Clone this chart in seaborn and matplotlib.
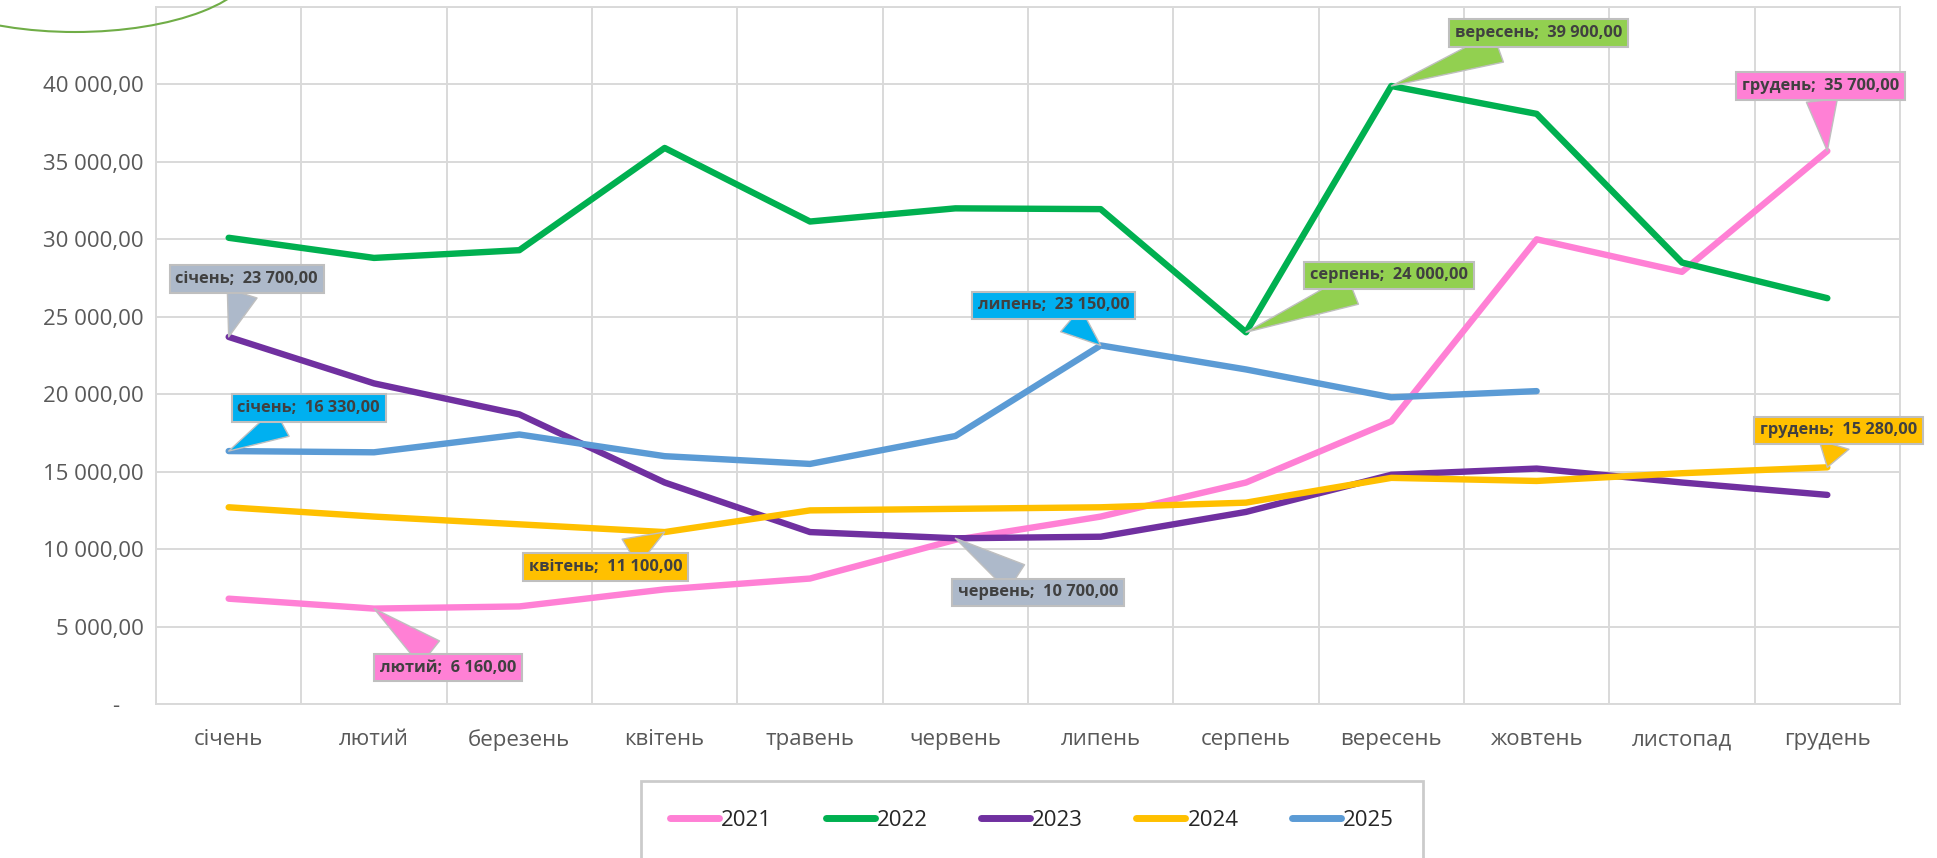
import matplotlib
matplotlib.use("Agg")
import matplotlib.pyplot as plt
import seaborn as sns
import pandas as pd
from matplotlib.patches import Ellipse
from matplotlib.ticker import FuncFormatter, MultipleLocator, FixedLocator

# --- data ---
months = ["січень", "лютий", "березень", "квітень", "травень", "червень",
          "липень", "серпень", "вересень", "жовтень", "листопад", "грудень"]
years = ["2021", "2022", "2023", "2024", "2025"]

v2021 = [6800, 6160, 6300, 7400, 8100, 10600, 12100, 14300, 18250, 30000, 27900, 35700]
v2022 = [30100, 28800, 29300, 35900, 31150, 32000, 31950, 24000, 39900, 38100, 28500, 26200]
v2023 = [23700, 20700, 18700, 14300, 11100, 10700, 10800, 12400, 14800, 15200, 14300, 13500]
v2024 = [12700, 12100, 11600, 11100, 12500, 12600, 12700, 13000, 14600, 14400, 14900, 15280]
v2025 = [16330, 16250, 17400, 16000, 15500, 17300, 23150, 21600, 19800, 20200]

# labelled points: (year, month)
labelled = [("2023", "січень"), ("2025", "січень"), ("2025", "липень"),
            ("2022", "вересень"), ("2021", "грудень"), ("2022", "серпень"),
            ("2024", "грудень"), ("2024", "квітень"), ("2023", "червень"),
            ("2021", "лютий")]

# --- styles ---
line_colors = {"2021": "#FF80D5", "2022": "#00B050", "2023": "#7030A0",
               "2024": "#FFC000", "2025": "#5B9BD5"}
box_colors = {"2021": "#FF80D5", "2022": "#92D050", "2023": "#ADB9CA",
              "2024": "#FFC000", "2025": "#00B0F0"}
# offsets of the callout boxes in pixels, same order as `labelled`
offsets = [(18, 58), (80, 43), (-47, 40), (147, 53), (-7, 65), (143, 57),
           (11, 37), (-59, -35), (83, -54), (74, -59)]

series = {"2021": v2021, "2022": v2022, "2023": v2023, "2024": v2024, "2025": v2025}
rows = []
for y in years:
    for i, v in enumerate(series[y]):
        rows.append({"pos": i, "month": months[i], "year": y, "value": v})
df = pd.DataFrame(rows)

def money(v, pos=None):
    if v == 0:
        return "-    "
    return f"{v:,.2f}".replace(",", " ").replace(".", ",")

def ytick(v, pos=None):
    if v > 40000:
        return ""
    return money(v)

sns.set_style("white")
plt.rcParams["font.family"] = ["Open Sans", "DejaVu Sans"]

fig = plt.figure(figsize=(19.37, 8.58), dpi=100)
ax = fig.add_axes([156 / 1937, 1 - 704 / 858, (1900 - 156) / 1937, (704 - 7) / 858])

sns.lineplot(data=df, x="pos", y="value", hue="year", palette=line_colors,
             linewidth=4.6, sort=False, ax=ax)

handles, labels = ax.get_legend_handles_labels()
ax.get_legend().remove()

ax.set_xlim(-0.5, 11.5)
ax.set_ylim(0, 45000)
ax.yaxis.set_major_locator(MultipleLocator(5000))
ax.yaxis.set_major_formatter(FuncFormatter(ytick))
ax.xaxis.set_major_locator(FixedLocator(range(12)))
ax.set_xticklabels(months)
ax.xaxis.set_minor_locator(FixedLocator([i + 0.5 for i in range(-1, 12)]))

grid_c = "#D9D9D9"
ax.grid(True, axis="y", which="major", color=grid_c, linewidth=1.4)
ax.grid(True, axis="x", which="minor", color=grid_c, linewidth=1.4)
ax.grid(False, axis="x", which="major")
for s in ax.spines.values():
    s.set_color(grid_c)
    s.set_linewidth(1.4)
ax.tick_params(axis="both", which="both", length=0)
ax.tick_params(axis="y", labelsize=16, labelcolor="#595959", pad=9)
ax.tick_params(axis="x", labelsize=16, labelcolor="#595959", pad=18)
ax.set_xlabel("")
ax.set_ylabel("")

# callouts
for (yr, m), (dx, dy) in zip(labelled, offsets):
    i = months.index(m)
    v = series[yr][i]
    c = box_colors[yr]
    ax.annotate(f"{m};  {money(v)}", xy=(i, v), xytext=(dx, dy),
                textcoords="offset pixels", ha="center", va="center",
                fontsize=11.8, fontweight="bold", color="#404040",
                bbox=dict(boxstyle="square,pad=0.35", fc=c, ec="#BFBFBF", lw=1.5),
                arrowprops=dict(arrowstyle="wedge,tail_width=1.9,shrink_factor=0.5",
                                fc=c, ec="#BFBFBF", lw=1.0, shrinkA=0, shrinkB=0),
                annotation_clip=False, zorder=5)

# legend
for h in handles:
    h.set_linewidth(5)
    h.set_solid_capstyle("round")
leg = fig.legend(handles, labels, loc="upper center", ncol=5,
                 bbox_to_anchor=(1032 / 1937, 1 - 781 / 858),
                 fontsize=16, frameon=True, fancybox=False, borderaxespad=0,
                 handlelength=2.2, handletextpad=0.1, columnspacing=2.4,
                 borderpad=1.3)
leg.get_frame().set_edgecolor("#BFBFBF")
leg.get_frame().set_linewidth(2)

# decorative arc in the top-left corner
fig.add_artist(Ellipse((75 / 1937, 1 + 38 / 858), 360 / 1937, 140 / 858,
                       transform=fig.transFigure, fill=False,
                       ec="#70AD47", lw=1.5, clip_on=False))

fig.savefig("out.png", dpi=100)
